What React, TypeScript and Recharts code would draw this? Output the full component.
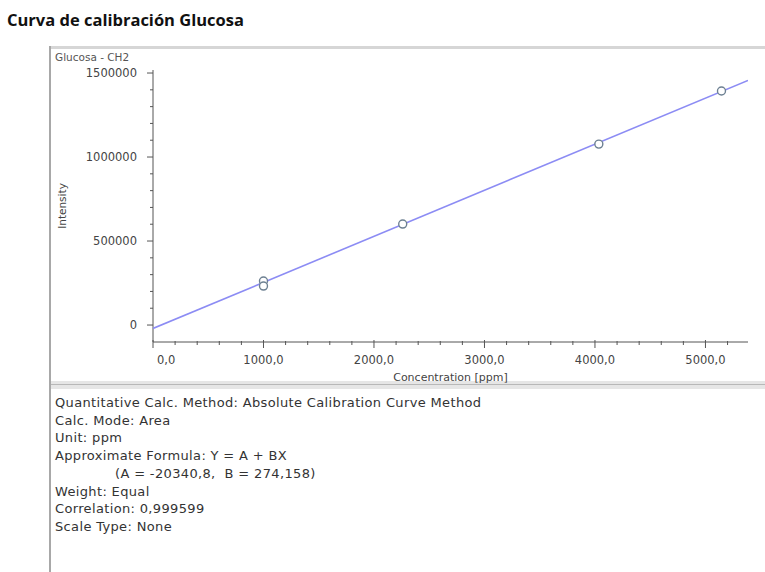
import React from "react";
import { ScatterChart, Scatter, XAxis, YAxis, Label } from "recharts";

// calibration standards
const concPpm = [1000, 1000, 2260, 4035, 5145];
const intensity = [262000, 232000, 601000, 1077000, 1393000];

// fitted line endpoints (as drawn)
const fitConc = [0, 5385];
const fitIntensity = [-20340, 1456000];

const xTicks = [0, 200, 400, 600, 800, 1000, 1200, 1400, 1600, 1800, 2000, 2200, 2400, 2600, 2800, 3000,
  3200, 3400, 3600, 3800, 4000, 4200, 4400, 4600, 4800, 5000, 5200];
const yTicks = [0, 100000, 200000, 300000, 400000, 500000, 600000, 700000, 800000, 900000, 1000000,
  1100000, 1200000, 1300000, 1400000, 1500000];

const infoLines = [
  "Quantitative Calc. Method: Absolute Calibration Curve Method",
  "Calc. Mode: Area",
  "Unit: ppm",
  "Approximate Formula: Y = A + BX",
  "(A = -20340,8,\u00a0 B = 274,158)",
  "Weight: Equal",
  "Correlation: 0,999599",
  "Scale Type: None",
];

const points = concPpm.map((x, i) => ({ x, y: intensity[i] }));
const fit = fitConc.map((x, i) => ({ x, y: fitIntensity[i] }));

const FONT = "'DejaVu Sans', sans-serif";
const AXIS = "#555";

function XTick(props: any) {
  const { x, y, payload } = props;
  const v = payload.value as number;
  const major = v % 1000 === 0;
  const label = v.toFixed(1).replace(".", ",");
  return (
    <g>
      <line x1={x} x2={x} y1={y - (major ? 2 : 1)} y2={y + (major ? 6 : 3)} stroke={AXIS} />
      {major && (
        <text x={v === 0 ? x + 4 : x} y={y + 22} textAnchor={v === 0 ? "start" : "middle"}
          fontSize={11.5} fill="#444" fontFamily={FONT}>{label}</text>
      )}
    </g>
  );
}

function YTick(props: any) {
  const { x, y, payload } = props;
  const v = payload.value as number;
  const major = v % 500000 === 0;
  return (
    <g>
      <line x1={x - (major ? 6 : 3)} x2={x} y1={y} y2={y} stroke={AXIS} />
      {major && (
        <text x={x - 16} y={y + 4} textAnchor="end" fontSize={11.5} fill="#444" fontFamily={FONT}>{String(v)}</text>
      )}
    </g>
  );
}

export default function App() {
  return (
    <div style={{ position: "absolute", left: 0, top: 0, width: 765, height: 572, background: "#fff", fontFamily: FONT, overflow: "hidden" }}>
      <div style={{ position: "absolute", left: 7, top: 8, fontFamily: "'Open Sans', sans-serif", fontWeight: 700, fontSize: 16.5, color: "#111" }}>
        Curva de calibración Glucosa
      </div>

      {/* panel frame */}
      <div style={{ position: "absolute", left: 50, top: 46, width: 715, height: 3, background: "#d6d6d6" }} />
      <div style={{ position: "absolute", left: 49, top: 46, width: 2, height: 526, background: "#a8a8a8" }} />
      <div style={{ position: "absolute", left: 51, top: 381, width: 714, height: 8, background: "#e6e6e6" }} />
      <div style={{ position: "absolute", left: 51, top: 384, width: 714, height: 1, background: "#b8b8b8" }} />

      <div style={{ position: "absolute", left: 55, top: 51, fontSize: 10.5, lineHeight: "13px", color: "#555" }}>Glucosa - CH2</div>

      <div style={{ position: "absolute", left: 0, top: 0 }}>
        <ScatterChart width={765} height={390} margin={{ top: 70, right: 17, bottom: 0, left: 0 }}>
          <XAxis type="number" dataKey="x" domain={[0, 5385]} ticks={xTicks} interval={0} allowDataOverflow
            height={48} tickSize={0} tickMargin={0} tickLine={false} stroke={AXIS} tick={<XTick />}>
            <Label content={({ viewBox }: any) => (
              <text x={viewBox.x + viewBox.width / 2} y={viewBox.y + 39} textAnchor="middle"
                fontSize={11} fill="#444" fontFamily={FONT}>Concentration [ppm]</text>
            )} />
          </XAxis>
          <YAxis type="number" dataKey="y" domain={[-101000, 1518000]} ticks={yTicks} interval={0} allowDataOverflow
            width={153} tickSize={0} tickMargin={0} tickLine={false} stroke={AXIS} tick={<YTick />}>
            <Label content={({ viewBox }: any) => (
              <text x={viewBox.x + 66} y={viewBox.y + viewBox.height / 2} textAnchor="middle"
                transform={`rotate(-90 ${viewBox.x + 66} ${viewBox.y + viewBox.height / 2})`}
                fontSize={10.5} fill="#444" fontFamily={FONT}>Intensity</text>
            )} />
          </YAxis>
          <Scatter data={fit} line={{ stroke: "#8c8cf4", strokeWidth: 1.6 }} shape={() => <g />} isAnimationActive={false} />
          <Scatter data={points} isAnimationActive={false}
            shape={(p: any) => <circle cx={p.cx} cy={p.cy} r={4} fill="#fff" stroke="#6d8092" strokeWidth={1.4} />} />
        </ScatterChart>
      </div>

      <div style={{ position: "absolute", left: 55, top: 394, fontSize: 13, letterSpacing: 0.35, lineHeight: "17.7px", color: "#333", whiteSpace: "pre" }}>
        {infoLines.map((t, i) => <div key={i} style={{ paddingLeft: i === 4 ? 60 : 0 }}>{t}</div>)}
      </div>
    </div>
  );
}
